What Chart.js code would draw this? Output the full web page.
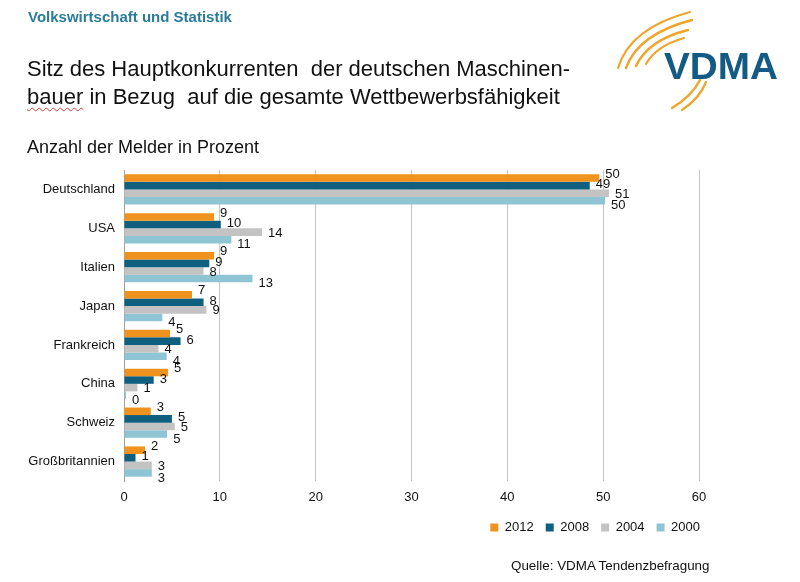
<!DOCTYPE html>
<html><head><meta charset="utf-8">
<script src="https://cdn.jsdelivr.net/npm/chart.js@4.4.1/dist/chart.umd.min.js"></script>
<style>
html,body{margin:0;padding:0;background:#fff;}
body{width:800px;height:582px;position:relative;overflow:hidden;font-family:"Liberation Sans",Arial,sans-serif;color:#111;}
#wrap{position:absolute;left:0;top:0;width:800px;height:582px;}
.t{position:absolute;white-space:pre;}
#hdr{left:28px;top:8px;font-family:"Liberation Sans Narrow","Liberation Sans",Arial,sans-serif;font-weight:bold;font-size:15px;color:#2a7c98;}
#ttl{left:27px;top:55px;font-size:22px;line-height:28px;color:#111;}
#ttl u{text-decoration:underline wavy #d04040;text-decoration-thickness:1px;text-underline-offset:3px;}
#sub{left:27px;top:137px;font-size:18px;color:#111;}
#src{left:511px;top:558px;font-size:13.4px;color:#111;}
#logo{position:absolute;left:600px;top:0px;}
</style></head>
<body>
<div id="wrap"><canvas id="c" width="800" height="582"></canvas></div>
<div class="t" id="hdr">Volkswirtschaft und Statistik</div>
<div class="t" id="ttl">Sitz des Hauptkonkurrenten  der deutschen Maschinen-
<u>bauer</u> in Bezug  auf die gesamte Wettbewerbsfähigkeit</div>
<div class="t" id="sub">Anzahl der Melder in Prozent</div>
<div class="t" id="src">Quelle: VDMA Tendenzbefragung</div>
<svg id="logo" width="200" height="115" viewBox="0 0 200 115">
  <g fill="none" stroke="#eea52a" stroke-linecap="round">
    <path d="M18 68 Q30 28 90 12" stroke-width="2.2"/>
    <path d="M26 68 Q38 34 92 20" stroke-width="2.4"/>
    <path d="M36 66 Q48 40 88 30" stroke-width="2.4"/>
    <path d="M46 64 Q56 46 84 38" stroke-width="2.2"/>
    <path d="M72 108 Q92 96 100 80" stroke-width="2.4"/>
    <path d="M82 110 Q100 98 106 82" stroke-width="2.2"/>
  </g>
  <text x="64" y="79" font-family="Liberation Sans, Arial, sans-serif" font-weight="bold" font-size="37" fill="#135b85" textLength="114" lengthAdjust="spacingAndGlyphs">VDMA</text>
</svg>
<script>
const categories = ["Deutschland","USA","Italien","Japan","Frankreich","China","Schweiz","Großbritannien"];
const seriesNames = ["2012","2008","2004","2000"];
const values2012 = [49.6, 9.4, 9.4, 7.1, 4.8, 4.6, 2.8, 2.2];
const values2008 = [48.6, 10.1, 8.9, 8.3, 5.9, 3.1, 5.0, 1.2];
const values2004 = [50.6, 14.4, 8.3, 8.6, 3.6, 1.4, 5.3, 2.9];
const values2000 = [50.2, 11.2, 13.4, 4.0, 4.45, 0.2, 4.5, 2.9];
const xTicks = [0,10,20,30,40,50,60];
const colors = ["#f0931e","#0f5f7f","#c3c3c3","#8ec4d3"];
const labelShift = [-4,-1,1,5];

const allValues = [values2012, values2008, values2004, values2000];

const labelPlugin = {
  id:'barLabels',
  afterLayout(chart){
    if (chart.legend) { chart.legend.left += 13; chart.legend.right += 13; }
  },
  afterDatasetsDraw(chart){
    const ctx = chart.ctx;
    ctx.save();
    ctx.font = '13px "Liberation Sans", Arial, sans-serif';
    ctx.fillStyle = '#111';
    ctx.textAlign = 'left';
    ctx.textBaseline = 'middle';
    chart.data.datasets.forEach((ds, di) => {
      const meta = chart.getDatasetMeta(di);
      meta.data.forEach((el, i) => {
        ctx.fillText(String(Math.round(ds.data[i])), el.x + 6, el.y + labelShift[di]);
      });
    });
    ctx.restore();
  }
};

new Chart(document.getElementById('c'), {
  type:'bar',
  data:{
    labels: categories,
    datasets: seriesNames.map((n, i) => ({
      label:n, data: allValues[i], backgroundColor: colors[i], borderWidth:0,
      barPercentage:1.0, categoryPercentage:0.78
    }))
  },
  options:{
    indexAxis:'y',
    responsive:false,
    animation:false,
    layout:{padding:{top:170,right:101,bottom:38,left:0}},
    plugins:{
      legend:{
        position:'bottom', align:'end',
        labels:{boxWidth:8, boxHeight:8, padding:12, color:'#111',
          font:{family:'"Liberation Sans", Arial, sans-serif', size:13}}
      },
      tooltip:{enabled:false}
    },
    scales:{
      x:{
        min:0, max:60,
        afterBuildTicks(ax){ ax.ticks = xTicks.map(v => ({value:v})); },
        afterFit(ax){ ax.height = 28; },
        grid:{color:(c)=> c.index===0 ? 'rgba(0,0,0,0)' : '#c4c4c4', lineWidth:1, drawTicks:false},
        border:{display:false},
        ticks:{padding:9, color:'#111', font:{family:'"Liberation Sans", Arial, sans-serif', size:13}}
      },
      y:{
        afterFit(ax){ ax.width = 124; },
        grid:{display:false, drawTicks:false},
        border:{display:true, color:'#a0a0a0', width:1},
        ticks:{padding:9, color:'#111', font:{family:'"Liberation Sans", Arial, sans-serif', size:13}}
      }
    }
  },
  plugins:[labelPlugin]
});
</script>
</body></html>
